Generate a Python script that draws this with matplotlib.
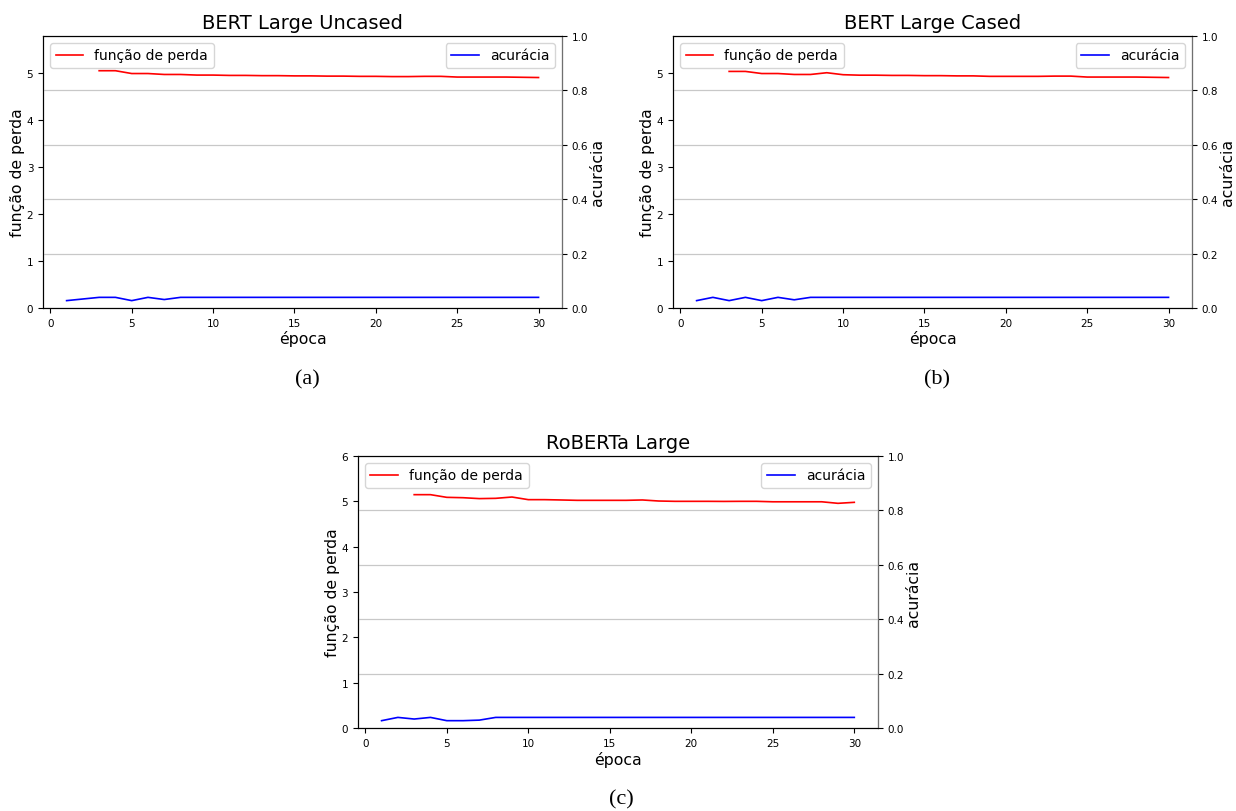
import matplotlib
matplotlib.use("Agg")
import matplotlib.pyplot as plt

# épocas
epocas_acc = list(range(1, 31))
epocas_loss = list(range(3, 31))

# BERT Large Uncased
loss_uncased = [5.05, 5.05, 4.99, 4.99, 4.97, 4.97, 4.957, 4.957, 4.95, 4.95,
                4.945, 4.945, 4.94, 4.94, 4.935, 4.935, 4.93, 4.93, 4.925, 4.925,
                4.93, 4.93, 4.915, 4.915, 4.915, 4.915, 4.91, 4.905]
acc_uncased = [0.027, 0.033, 0.039, 0.039, 0.027, 0.039, 0.031] + [0.039] * 23

# BERT Large Cased
loss_cased = [5.035, 5.035, 4.99, 4.99, 4.97, 4.97, 5.007, 4.965, 4.955, 4.955,
              4.95, 4.95, 4.945, 4.945, 4.94, 4.94, 4.93, 4.93, 4.93, 4.93,
              4.935, 4.935, 4.915, 4.915, 4.915, 4.915, 4.91, 4.905]
acc_cased = [0.027, 0.039, 0.027, 0.039, 0.027, 0.039, 0.03] + [0.039] * 23

# RoBERTa Large
loss_roberta = [5.147, 5.147, 5.088, 5.08, 5.06, 5.066, 5.095, 5.037, 5.037, 5.03,
                5.022, 5.022, 5.022, 5.022, 5.03, 5.007, 5.0, 5.0, 5.0, 4.998,
                5.0, 5.0, 4.99, 4.99, 4.99, 4.99, 4.956, 4.978]
acc_roberta = [0.027, 0.039, 0.033, 0.039, 0.027, 0.027, 0.029] + [0.039] * 23

titulos = ["BERT Large Uncased", "BERT Large Cased", "RoBERTa Large"]
legendas = ["(a)", "(b)", "(c)"]
perdas = [loss_uncased, loss_cased, loss_roberta]
acuracias = [acc_uncased, acc_cased, acc_roberta]
ytop = [5.79, 5.79, 6.0]

fig = plt.figure(figsize=(12.36, 8.12), dpi=100)
posicoes = [[0.0348, 0.6195, 0.42, 0.335],
            [0.5445, 0.6195, 0.42, 0.335],
            [0.2896, 0.1022, 0.4207, 0.335]]
pos_legenda = [(0.249, 0.532), (0.758, 0.532), (0.503, 0.0148)]

for i in range(3):
    ax1 = fig.add_axes(posicoes[i])
    ax1.plot(epocas_loss, perdas[i], color="red", lw=1.2, label="função de perda")
    ax1.set_ylim(0, ytop[i])
    ax1.set_xticks([0, 5, 10, 15, 20, 25, 30])
    ax1.set_xlabel("época", fontsize=11.3, labelpad=2)
    ax1.set_ylabel("função de perda", fontsize=11.3, labelpad=1)
    ax1.tick_params(labelsize=7.5)
    ax1.set_title(titulos[i], fontsize=14)
    ax1.legend(loc="upper left", fontsize=10)

    ax2 = ax1.twinx()
    ax2.plot(epocas_acc, acuracias[i], color="blue", lw=1.2, label="acurácia")
    ax2.set_ylim(0, 1)
    ax2.grid(True, axis="y", color="#c8c8c8", lw=0.9)
    ax2.set_ylabel("acurácia", fontsize=11.3, labelpad=1)
    ax2.tick_params(labelsize=7.5)
    ax2.spines["right"].set_color("#707070")
    ax2.legend(loc="upper right", fontsize=10)

    fig.text(pos_legenda[i][0], pos_legenda[i][1], legendas[i], ha="center",
             va="center", fontsize=16, family="Liberation Serif")

fig.savefig("out.png", dpi=100)
